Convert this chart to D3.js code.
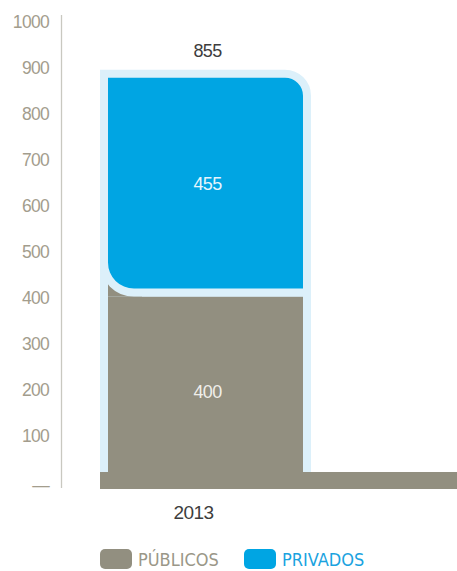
<!DOCTYPE html>
<html>
<head>
<meta charset="utf-8">
<script src="https://cdn.jsdelivr.net/npm/d3@7"></script>
<style>
  html, body { margin: 0; padding: 0; background: #fff; }
  svg { display: block; }
</style>
</head>
<body>
<div id="chart"></div>
<script>
// Students by type of institution, 2013
const categories = ["2013"];
const publicos = [400];
const privados = [455];
const tickValues = [0, 100, 200, 300, 400, 500, 600, 700, 800, 900, 1000];
const tickLabels = ["—", "100", "200", "300", "400", "500", "600", "700", "800", "900", "1000"];
const seriesNames = ["PÚBLICOS", "PRIVADOS"];

const W = 457, H = 571;
const colGray = "#928f80";
const colBlue = "#00a5e3";
const colHalo = "#dcf0fa";

const svg = d3.select("#chart").append("svg")
  .attr("width", W).attr("height", H);

// scale used for the printed tick labels
const yTick = d3.scaleLinear().domain([0, 1000]).range([482, 22]);
// scale used for the stacked column
const yBar = d3.scaleLinear().domain([0, 1000]).range([489, 8]);
const x = d3.scaleBand().domain(categories).range([108, 303]).padding(0);

// vertical axis line
svg.append("line")
  .attr("x1", 61.5).attr("x2", 61.5)
  .attr("y1", 15).attr("y2", 488)
  .attr("stroke", "#c9c8c0").attr("stroke-width", 1.3);

// tick labels
svg.append("g").selectAll("text")
  .data(tickValues)
  .join("text")
  .attr("x", 49)
  .attr("y", d => yTick(d))
  .attr("dy", (d, i) => i === 0 ? "0.5em" : "0.36em")
  .attr("text-anchor", "end")
  .attr("font-family", "Liberation Sans, Arial, sans-serif")
  .attr("font-size", 17.5)
  .attr("letter-spacing", -0.7)
  .attr("fill", "#a39d8d")
  .text((d, i) => tickLabels[i]);

const g = svg.append("g");

categories.forEach((c, i) => {
  const x0 = x(c), x1 = x(c) + x.bandwidth();
  const pub = publicos[i], priv = privados[i], total = pub + priv;
  const halo = 8;
  const top = yBar(total);
  const bottom = yBar(pub) - halo;
  const r1 = 18, r2 = 26;

  // light halo along the sides of the column
  g.append("rect")
    .attr("x", x0 - halo).attr("width", x1 - x0 + 2 * halo)
    .attr("y", top + 30).attr("height", yBar(0) - top - 30)
    .attr("fill", colHalo);

  // público segment
  g.append("rect")
    .attr("x", x0).attr("width", x1 - x0)
    .attr("y", yBar(pub)).attr("height", yBar(0) - yBar(pub))
    .attr("fill", colGray);
  // fill under the rounded corner of the segment above
  g.append("rect")
    .attr("x", x0).attr("width", r2 + halo)
    .attr("y", bottom - r2).attr("height", yBar(pub) - bottom + r2)
    .attr("fill", colGray);

  // privado segment, rounded top-right and bottom-left corners
  const p = d3.path();
  p.moveTo(x0, top);
  p.lineTo(x1 - r1, top);
  p.arcTo(x1, top, x1, top + r1, r1);
  p.lineTo(x1, bottom);
  p.lineTo(x0 + r2, bottom);
  p.arcTo(x0, bottom, x0, bottom - r2, r2);
  p.closePath();
  g.append("path")
    .attr("d", p.toString())
    .attr("fill", colBlue)
    .attr("stroke", colHalo)
    .attr("stroke-width", halo * 2)
    .attr("stroke-linejoin", "miter")
    .attr("paint-order", "stroke");

  // value labels
  const cx = (x0 + x1) / 2 + 2;
  g.append("text")
    .attr("x", cx).attr("y", yBar(total) - 21)
    .attr("text-anchor", "middle")
    .attr("font-family", "Liberation Sans, Arial, sans-serif")
    .attr("font-size", 18).attr("letter-spacing", -0.6)
    .attr("fill", "#3d3d3d")
    .text(total);
  g.append("text")
    .attr("x", cx).attr("y", (top + bottom) / 2)
    .attr("dy", "0.36em")
    .attr("text-anchor", "middle")
    .attr("font-family", "Liberation Sans, Arial, sans-serif")
    .attr("font-size", 18).attr("letter-spacing", -0.6)
    .attr("fill", "#e6f5fc")
    .text(priv);
  g.append("text")
    .attr("x", cx).attr("y", (yBar(pub) + yBar(0)) / 2)
    .attr("dy", "0.3em")
    .attr("text-anchor", "middle")
    .attr("font-family", "Liberation Sans, Arial, sans-serif")
    .attr("font-size", 18).attr("letter-spacing", -0.6)
    .attr("fill", "#efeeea")
    .text(pub);

  // category label
  g.append("text")
    .attr("x", cx - 14).attr("y", 519)
    .attr("text-anchor", "middle")
    .attr("font-family", "Liberation Sans, Arial, sans-serif")
    .attr("font-size", 19).attr("letter-spacing", -0.6)
    .attr("fill", "#3d3d3d")
    .text(c);
});

// base strip along the floor
svg.append("rect")
  .attr("x", 100).attr("width", W - 100)
  .attr("y", yBar(0) - 17).attr("height", 17)
  .attr("fill", colGray);

// legend
const legend = svg.append("g");
const legendX = [100, 244];
const legendColors = [colGray, colBlue];
const legendText = ["#9a9788", "#1aa3df"];
seriesNames.forEach((name, i) => {
  legend.append("rect")
    .attr("x", legendX[i]).attr("y", 549)
    .attr("width", 32).attr("height", 20)
    .attr("rx", 5)
    .attr("fill", legendColors[i]);
  legend.append("text")
    .attr("x", legendX[i] + 38).attr("y", 566)
    .attr("font-family", "Liberation Sans Narrow, DejaVu Sans Condensed, sans-serif")
    .attr("font-stretch", "condensed")
    .attr("font-size", 18)
    .attr("fill", legendText[i])
    .text(name);
});
</script>
</body>
</html>
